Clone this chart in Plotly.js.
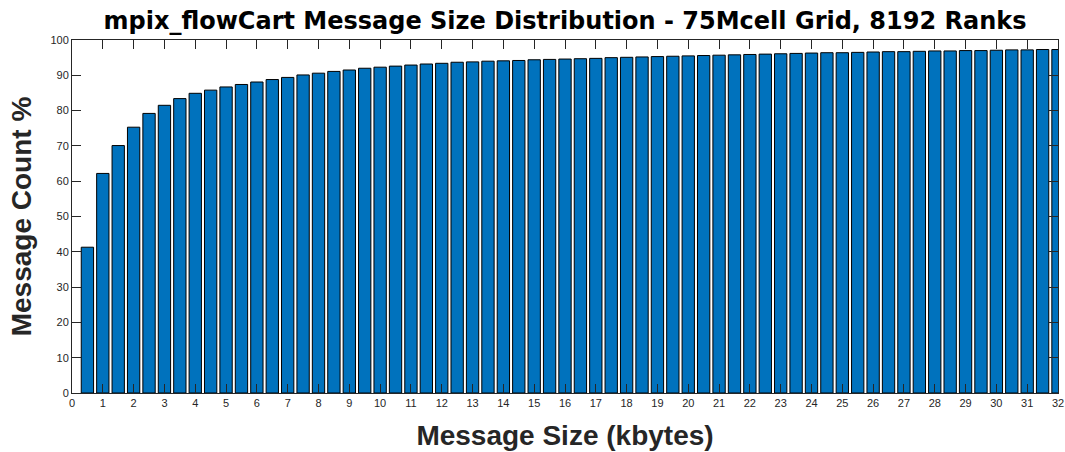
<!DOCTYPE html>
<html>
<head>
<meta charset="utf-8">
<script src="https://cdn.plot.ly/plotly-3.0.1.min.js"></script>
<style>html,body{margin:0;padding:0;background:#fff;}#chart{width:1065px;height:452px;}</style>
</head>
<body>
<div id="chart"></div>
<script>
var messageSizeKB = [
  0.5, 1, 1.5, 2, 2.5, 3, 3.5, 4, 4.5, 5, 5.5, 6, 6.5, 7, 7.5, 8,
  8.5, 9, 9.5, 10, 10.5, 11, 11.5, 12, 12.5, 13, 13.5, 14, 14.5, 15, 15.5, 16,
  16.5, 17, 17.5, 18, 18.5, 19, 19.5, 20, 20.5, 21, 21.5, 22, 22.5, 23, 23.5, 24,
  24.5, 25, 25.5, 26, 26.5, 27, 27.5, 28, 28.5, 29, 29.5, 30, 30.5, 31, 31.5, 32
];
var messageCountPct = [
  41.3, 62.2, 70.1, 75.3, 79.2, 81.5, 83.4, 84.9, 85.8, 86.7, 87.4, 88.1, 88.8, 89.4, 90.1, 90.6,
  91.1, 91.5, 92.0, 92.3, 92.6, 92.9, 93.2, 93.4, 93.7, 93.8, 94.0, 94.1, 94.2, 94.4, 94.5, 94.6,
  94.7, 94.8, 95.0, 95.1, 95.2, 95.3, 95.4, 95.5, 95.6, 95.7, 95.8, 95.9, 96.0, 96.1, 96.2, 96.3,
  96.4, 96.4, 96.5, 96.6, 96.7, 96.7, 96.8, 96.9, 96.9, 97.0, 97.0, 97.1, 97.2, 97.2, 97.3, 97.3
];
var xTickVals = [];
for (var i = 0; i <= 32; i++) xTickVals.push(i);
var yTickVals = [0, 10, 20, 30, 40, 50, 60, 70, 80, 90, 100];

var titleText = 'mpix_flowCart Message Size Distribution - 75Mcell Grid, 8192 Ranks';
var xTitle = 'Message Size (kbytes)';
var yTitle = 'Message Count %';

var trace = {
  type: 'bar',
  x: messageSizeKB,
  y: messageCountPct,
  marker: { color: '#0072BD', line: { color: '#000000', width: 1 } },
  hoverinfo: 'x+y'
};

var axisCommon = {
  showline: true, linecolor: '#262626', linewidth: 1, mirror: 'ticks',
  ticks: 'inside', ticklen: 9, tickcolor: '#262626', tickwidth: 1,
  showgrid: false, zeroline: false,
  tickfont: { family: 'Liberation Sans, Arial, sans-serif', size: 11, color: '#262626' }
};

var layout = {
  width: 1065, height: 452,
  margin: { l: 72, r: 7, t: 40, b: 59 },
  paper_bgcolor: '#ffffff', plot_bgcolor: '#ffffff',
  bargap: 0.2,
  showlegend: false,
  title: {
    text: '<b>' + titleText + '</b>',
    font: { family: 'DejaVu Sans, Liberation Sans, sans-serif', size: 24, color: '#000000' },
    x: 0.5, xref: 'paper', y: 0.955, yanchor: 'middle'
  },
  xaxis: Object.assign({}, axisCommon, {
    range: [0, 32], tickmode: 'array', tickvals: xTickVals, ticktext: xTickVals.map(String),
    title: { text: '<b>' + xTitle + '</b>', standoff: 17,
      font: { family: 'Liberation Sans, Arial, sans-serif', size: 28, color: '#262626' } }
  }),
  yaxis: Object.assign({}, axisCommon, {
    range: [0, 100], tickmode: 'array', tickvals: yTickVals, ticktext: yTickVals.map(String),
    title: { text: '<b>' + yTitle + '</b>', standoff: 10,
      font: { family: 'Liberation Sans, Arial, sans-serif', size: 28, color: '#262626' } }
  })
};

Plotly.newPlot('chart', [trace], layout, { displayModeBar: false, staticPlot: true });
</script>
</body>
</html>
